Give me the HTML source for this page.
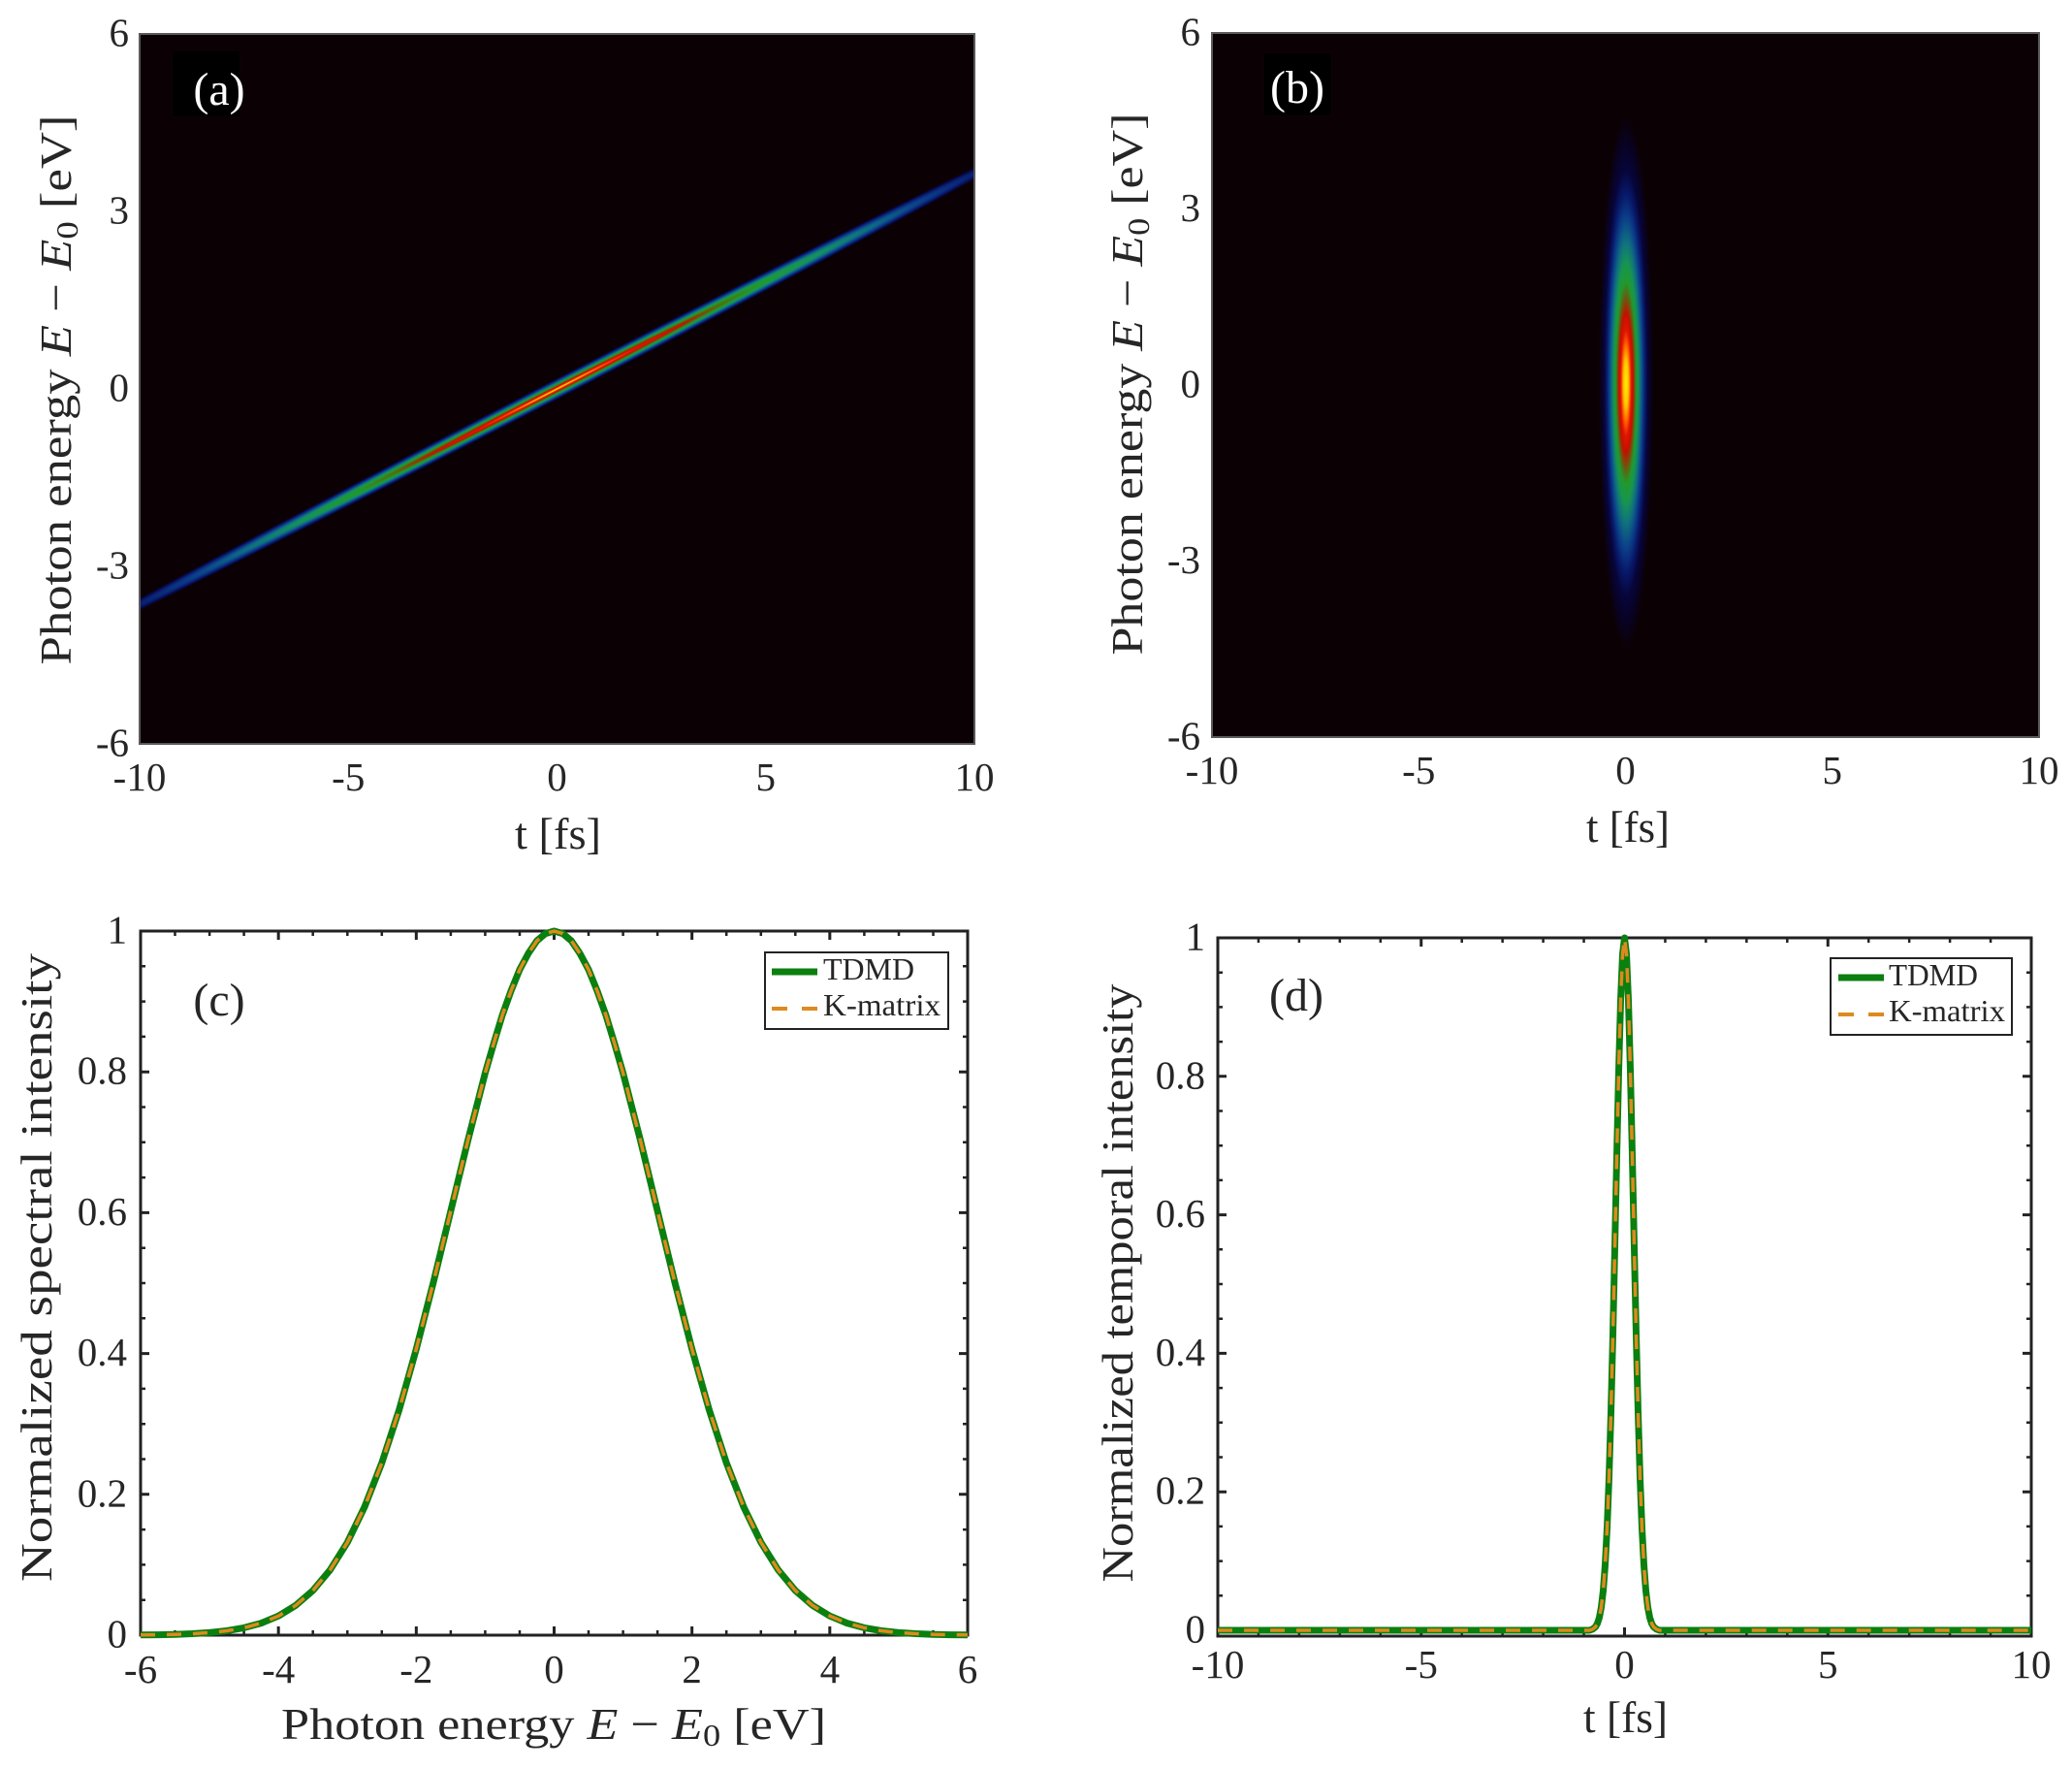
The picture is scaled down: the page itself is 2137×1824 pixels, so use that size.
<!DOCTYPE html>
<html><head><meta charset="utf-8"><style>
html,body{margin:0;padding:0;background:#fff;}
svg{display:block;}
text{font-family:"Liberation Serif","DejaVu Serif",serif;fill:#262626;}
</style></head><body>
<svg width="2137" height="1824" viewBox="0 0 2137 1824" xmlns="http://www.w3.org/2000/svg">
<defs>
<radialGradient id="ga" cx="50%" cy="50%" r="50%">
<stop offset="0" stop-color="#ffe600"/>
<stop offset="0.05" stop-color="#ffb000"/>
<stop offset="0.10" stop-color="#ff4000"/>
<stop offset="0.15" stop-color="#e01500"/>
<stop offset="0.25" stop-color="#b81a00"/>
<stop offset="0.32" stop-color="#507010"/>
<stop offset="0.40" stop-color="#1f9a2c"/>
<stop offset="0.51" stop-color="#159060"/>
<stop offset="0.61" stop-color="#0e6a85"/>
<stop offset="0.72" stop-color="#0b3a88"/>
<stop offset="0.84" stop-color="#081665"/>
<stop offset="0.93" stop-color="#06043a"/>
<stop offset="1" stop-color="#0b0104"/>
</radialGradient>
<radialGradient id="gb" cx="50%" cy="50%" r="50%">
<stop offset="0" stop-color="#ffef00"/>
<stop offset="0.09" stop-color="#ffc400"/>
<stop offset="0.15" stop-color="#ff5a00"/>
<stop offset="0.20" stop-color="#e01500"/>
<stop offset="0.26" stop-color="#c41000"/>
<stop offset="0.32" stop-color="#6a5a10"/>
<stop offset="0.38" stop-color="#1f9a2c"/>
<stop offset="0.45" stop-color="#189450"/>
<stop offset="0.53" stop-color="#0f7080"/>
<stop offset="0.62" stop-color="#0b3f88"/>
<stop offset="0.71" stop-color="#08186a"/>
<stop offset="0.80" stop-color="#07053a"/>
<stop offset="0.90" stop-color="#090222"/>
<stop offset="1" stop-color="#0b0104"/>
</radialGradient>
<clipPath id="ca"><rect x="144" y="35" width="861" height="732"/></clipPath>
<clipPath id="cb"><rect x="1250" y="34" width="853" height="726"/></clipPath>
</defs>

<!-- ===== Panel (a) ===== -->
<rect x="144" y="35" width="861" height="732" fill="#0b0104"/>
<g clip-path="url(#ca)">
<ellipse cx="574.5" cy="401" rx="600" ry="10" fill="url(#ga)" transform="rotate(-27.3 574.5 401)"/>
</g>
<rect x="144" y="35" width="861" height="732" fill="none" stroke="#5a5a5a" stroke-width="2"/>
<rect x="178" y="53" width="69" height="67" fill="#000"/>
<text x="226" y="108" font-size="48" text-anchor="middle" style="fill:#fff">(a)</text>
<g font-size="41">
<text x="133" y="47.5" text-anchor="end">6</text>
<text x="133" y="230.5" text-anchor="end">3</text>
<text x="133" y="413.5" text-anchor="end">0</text>
<text x="133" y="596.5" text-anchor="end">-3</text>
<text x="133" y="779.5" text-anchor="end">-6</text>
<text x="144" y="815" text-anchor="middle">-10</text>
<text x="359.25" y="815" text-anchor="middle">-5</text>
<text x="574.5" y="815" text-anchor="middle">0</text>
<text x="789.75" y="815" text-anchor="middle">5</text>
<text x="1005" y="815" text-anchor="middle">10</text>
</g>
<text x="531" y="875" font-size="46" textLength="89" lengthAdjust="spacingAndGlyphs">t [fs]</text>
<text transform="translate(73,402) rotate(-90)" text-anchor="middle" font-size="46" textLength="567" lengthAdjust="spacingAndGlyphs">Photon energy <tspan font-style="italic">E</tspan> − <tspan font-style="italic">E</tspan><tspan font-size="32" dy="7">0</tspan><tspan dy="-7"> [eV]</tspan></text>

<!-- ===== Panel (b) ===== -->
<rect x="1250" y="34" width="853" height="726" fill="#0b0104"/>
<g clip-path="url(#cb)">
<ellipse cx="1677" cy="395" rx="28" ry="275" fill="url(#gb)"/>
</g>
<rect x="1250" y="34" width="853" height="726" fill="none" stroke="#5a5a5a" stroke-width="2"/>
<rect x="1304" y="55" width="69" height="64" fill="#000"/>
<text x="1338" y="106" font-size="48" text-anchor="middle" style="fill:#fff">(b)</text>
<g font-size="41">
<text x="1238" y="46.5" text-anchor="end">6</text>
<text x="1238" y="228" text-anchor="end">3</text>
<text x="1238" y="409.5" text-anchor="end">0</text>
<text x="1238" y="591" text-anchor="end">-3</text>
<text x="1238" y="772.5" text-anchor="end">-6</text>
<text x="1250" y="808" text-anchor="middle">-10</text>
<text x="1463.25" y="808" text-anchor="middle">-5</text>
<text x="1676.5" y="808" text-anchor="middle">0</text>
<text x="1889.75" y="808" text-anchor="middle">5</text>
<text x="2103" y="808" text-anchor="middle">10</text>
</g>
<text x="1636" y="868" font-size="46" textLength="86" lengthAdjust="spacingAndGlyphs">t [fs]</text>
<text transform="translate(1178,396) rotate(-90)" text-anchor="middle" font-size="46" textLength="559" lengthAdjust="spacingAndGlyphs">Photon energy <tspan font-style="italic">E</tspan> − <tspan font-style="italic">E</tspan><tspan font-size="32" dy="7">0</tspan><tspan dy="-7"> [eV]</tspan></text>

<!-- ===== Panel (c) ===== -->
<rect x="145" y="960" width="853" height="726" fill="#fff" stroke="#222" stroke-width="3"/>
<path stroke="#222" stroke-width="3" fill="none" d="
M287.17 1686v-9M429.33 1686v-9M571.5 1686v-9M713.67 1686v-9M855.83 1686v-9
M287.17 960v9M429.33 960v9M571.5 960v9M713.67 960v9M855.83 960v9
M145 1540.8h9M145 1395.6h9M145 1250.4h9M145 1105.2h9
M998 1540.8h-9M998 1395.6h-9M998 1250.4h-9M998 1105.2h-9"/>
<path stroke="#222" stroke-width="2.5" fill="none" d="
M180.5 1686v-5M216.1 1686v-5M251.6 1686v-5M322.7 1686v-5M358.3 1686v-5M393.8 1686v-5M464.9 1686v-5M500.4 1686v-5M536 1686v-5M607 1686v-5M642.6 1686v-5M678.1 1686v-5M749.2 1686v-5M784.8 1686v-5M820.3 1686v-5M891.4 1686v-5M927 1686v-5M962.5 1686v-5
M180.5 960v5M216.1 960v5M251.6 960v5M322.7 960v5M358.3 960v5M393.8 960v5M464.9 960v5M500.4 960v5M536 960v5M607 960v5M642.6 960v5M678.1 960v5M749.2 960v5M784.8 960v5M820.3 960v5M891.4 960v5M927 960v5M962.5 960v5
M145 1649.7h5M145 1613.4h5M145 1577.1h5M145 1504.5h5M145 1468.2h5M145 1431.9h5M145 1359.3h5M145 1323h5M145 1286.7h5M145 1214.1h5M145 1177.8h5M145 1141.5h5M145 1068.9h5M145 1032.6h5M145 996.3h5
M998 1649.7h-5M998 1613.4h-5M998 1577.1h-5M998 1504.5h-5M998 1468.2h-5M998 1431.9h-5M998 1359.3h-5M998 1323h-5M998 1286.7h-5M998 1214.1h-5M998 1177.8h-5M998 1141.5h-5M998 1068.9h-5M998 1032.6h-5M998 996.3h-5"/>
<polyline fill="none" stroke="#0b7f10" stroke-width="7" stroke-linejoin="round" stroke-linecap="butt" points="145,1685.8 162.8,1685.6 180.5,1685.2 198.3,1684.5 216.1,1683.4 233.9,1681.5 251.6,1678.4 269.4,1673.6 287.2,1666.2 304.9,1655.4 322.7,1640 340.5,1618.7 358.3,1590.3 376,1553.8 393.8,1508.3 411.6,1453.9 429.3,1391.1 447.1,1321.8 464.9,1248.6 482.7,1175.4 500.4,1106.4 509.3,1075.6 518.2,1046.4 527.1,1021.6 536,999.7 544.9,983.1 553.7,970.1 562.6,962.6 571.5,960 580.4,962.6 589.3,970.1 598.1,983.1 607,999.7 615.9,1021.6 624.8,1046.4 633.7,1075.6 642.6,1106.4 660.4,1175.4 678.1,1248.6 695.9,1321.8 713.7,1391.1 731.5,1453.9 749.2,1508.3 767,1553.8 784.8,1590.3 802.6,1618.7 820.3,1640 838.1,1655.4 855.9,1666.2 873.6,1673.6 891.4,1678.4 909.2,1681.5 927,1683.4 944.7,1684.5 962.5,1685.2 980.2,1685.6 998,1685.8"/>
<polyline fill="none" stroke="#dd8a1e" stroke-width="3.5" stroke-dasharray="15 12" stroke-linejoin="round" points="145,1685.8 162.8,1685.6 180.5,1685.2 198.3,1684.5 216.1,1683.4 233.9,1681.5 251.6,1678.4 269.4,1673.6 287.2,1666.2 304.9,1655.4 322.7,1640 340.5,1618.7 358.3,1590.3 376,1553.8 393.8,1508.3 411.6,1453.9 429.3,1391.1 447.1,1321.8 464.9,1248.6 482.7,1175.4 500.4,1106.4 509.3,1075.6 518.2,1046.4 527.1,1021.6 536,999.7 544.9,983.1 553.7,970.1 562.6,962.6 571.5,960 580.4,962.6 589.3,970.1 598.1,983.1 607,999.7 615.9,1021.6 624.8,1046.4 633.7,1075.6 642.6,1106.4 660.4,1175.4 678.1,1248.6 695.9,1321.8 713.7,1391.1 731.5,1453.9 749.2,1508.3 767,1553.8 784.8,1590.3 802.6,1618.7 820.3,1640 838.1,1655.4 855.9,1666.2 873.6,1673.6 891.4,1678.4 909.2,1681.5 927,1683.4 944.7,1684.5 962.5,1685.2 980.2,1685.6 998,1685.8"/>
<rect x="789" y="982" width="189" height="79" fill="#fff" stroke="#222" stroke-width="2"/>
<line x1="796" y1="1002" x2="843" y2="1002" stroke="#0b7f10" stroke-width="7"/>
<line x1="796" y1="1040" x2="843" y2="1040" stroke="#dd8a1e" stroke-width="4" stroke-dasharray="16 15"/>
<text x="849" y="1010" font-size="32" textLength="94" lengthAdjust="spacingAndGlyphs">TDMD</text>
<text x="849" y="1047" font-size="32" textLength="121" lengthAdjust="spacingAndGlyphs">K-matrix</text>
<text x="226" y="1047" font-size="48" text-anchor="middle">(c)</text>
<g font-size="41">
<text x="131" y="1698.5" text-anchor="end">0</text>
<text x="131" y="1553.3" text-anchor="end">0.2</text>
<text x="131" y="1408.1" text-anchor="end">0.4</text>
<text x="131" y="1262.9" text-anchor="end">0.6</text>
<text x="131" y="1117.7" text-anchor="end">0.8</text>
<text x="131" y="972.5" text-anchor="end">1</text>
<text x="145" y="1735" text-anchor="middle">-6</text>
<text x="287.17" y="1735" text-anchor="middle">-4</text>
<text x="429.33" y="1735" text-anchor="middle">-2</text>
<text x="571.5" y="1735" text-anchor="middle">0</text>
<text x="713.67" y="1735" text-anchor="middle">2</text>
<text x="855.83" y="1735" text-anchor="middle">4</text>
<text x="998" y="1735" text-anchor="middle">6</text>
</g>
<text x="571" y="1793" text-anchor="middle" font-size="46" textLength="562" lengthAdjust="spacingAndGlyphs">Photon energy <tspan font-style="italic">E</tspan> − <tspan font-style="italic">E</tspan><tspan font-size="32" dy="7">0</tspan><tspan dy="-7"> [eV]</tspan></text>
<text transform="translate(53,1307) rotate(-90)" text-anchor="middle" font-size="46" textLength="648" lengthAdjust="spacingAndGlyphs">Normalized spectral intensity</text>

<!-- ===== Panel (d) ===== -->
<rect x="1256" y="967" width="839" height="720" fill="#fff" stroke="#222" stroke-width="3"/>
<path stroke="#222" stroke-width="3" fill="none" d="
M1465.75 1687v-9M1675.5 1687v-9M1885.25 1687v-9
M1465.75 967v9M1675.5 967v9M1885.25 967v9
M1256 1681h9M1256 1538.2h9M1256 1395.4h9M1256 1252.6h9M1256 1109.8h9
M2095 1681h-9M2095 1538.2h-9M2095 1395.4h-9M2095 1252.6h-9M2095 1109.8h-9"/>
<path stroke="#222" stroke-width="2.5" fill="none" d="
M1297.95 1687v-5M1339.9 1687v-5M1381.85 1687v-5M1423.8 1687v-5M1507.7 1687v-5M1549.65 1687v-5M1591.6 1687v-5M1633.55 1687v-5M1717.45 1687v-5M1759.4 1687v-5M1801.35 1687v-5M1843.3 1687v-5M1927.2 1687v-5M1969.15 1687v-5M2011.1 1687v-5M2053.05 1687v-5
M1297.95 967v5M1339.9 967v5M1381.85 967v5M1423.8 967v5M1507.7 967v5M1549.65 967v5M1591.6 967v5M1633.55 967v5M1717.45 967v5M1759.4 967v5M1801.35 967v5M1843.3 967v5M1927.2 967v5M1969.15 967v5M2011.1 967v5M2053.05 967v5
M1256 1645.3h5M1256 1609.6h5M1256 1573.9h5M1256 1502.5h5M1256 1466.8h5M1256 1431.1h5M1256 1359.7h5M1256 1324h5M1256 1288.3h5M1256 1216.9h5M1256 1181.2h5M1256 1145.5h5M1256 1074.1h5M1256 1038.4h5M1256 1002.7h5
M2095 1645.3h-5M2095 1609.6h-5M2095 1573.9h-5M2095 1502.5h-5M2095 1466.8h-5M2095 1431.1h-5M2095 1359.7h-5M2095 1324h-5M2095 1288.3h-5M2095 1216.9h-5M2095 1181.2h-5M2095 1145.5h-5M2095 1074.1h-5M2095 1038.4h-5M2095 1002.7h-5"/>
<polyline fill="none" stroke="#0b7f10" stroke-width="7" stroke-linejoin="round" points="1256,1681 1639.5,1681 1642.5,1679.9 1645.5,1677.5 1647.5,1674 1649.5,1667.8 1651.5,1657.2 1653.5,1640.1 1655.5,1613.8 1657.5,1575.7 1659.5,1523.6 1661.5,1456.7 1663.5,1376 1665.5,1285.5 1667.5,1191.8 1669.5,1103.8 1671.5,1031.4 1673.5,983.7 1675.5,967 1677.5,983.7 1679.5,1031.4 1681.5,1103.8 1683.5,1191.8 1685.5,1285.5 1687.5,1376 1689.5,1456.7 1691.5,1523.6 1693.5,1575.7 1695.5,1613.8 1697.5,1640.1 1699.5,1657.2 1701.5,1667.8 1703.5,1674 1705.5,1677.5 1708.5,1679.9 1711.5,1681 2095,1681"/>
<polyline fill="none" stroke="#dd8a1e" stroke-width="3.5" stroke-dasharray="15 12" stroke-linejoin="round" points="1256,1681 1639.5,1681 1642.5,1679.9 1645.5,1677.5 1647.5,1674 1649.5,1667.8 1651.5,1657.2 1653.5,1640.1 1655.5,1613.8 1657.5,1575.7 1659.5,1523.6 1661.5,1456.7 1663.5,1376 1665.5,1285.5 1667.5,1191.8 1669.5,1103.8 1671.5,1031.4 1673.5,983.7 1675.5,967 1677.5,983.7 1679.5,1031.4 1681.5,1103.8 1683.5,1191.8 1685.5,1285.5 1687.5,1376 1689.5,1456.7 1691.5,1523.6 1693.5,1575.7 1695.5,1613.8 1697.5,1640.1 1699.5,1657.2 1701.5,1667.8 1703.5,1674 1705.5,1677.5 1708.5,1679.9 1711.5,1681 2095,1681"/>
<rect x="1888" y="988" width="187" height="79" fill="#fff" stroke="#222" stroke-width="2"/>
<line x1="1896" y1="1008" x2="1943" y2="1008" stroke="#0b7f10" stroke-width="7"/>
<line x1="1896" y1="1046" x2="1943" y2="1046" stroke="#dd8a1e" stroke-width="4" stroke-dasharray="16 15"/>
<text x="1948" y="1016" font-size="32" textLength="92" lengthAdjust="spacingAndGlyphs">TDMD</text>
<text x="1948" y="1053" font-size="32" textLength="120" lengthAdjust="spacingAndGlyphs">K-matrix</text>
<text x="1337" y="1042" font-size="48" text-anchor="middle">(d)</text>
<g font-size="41">
<text x="1243" y="1693.5" text-anchor="end">0</text>
<text x="1243" y="1550.7" text-anchor="end">0.2</text>
<text x="1243" y="1407.9" text-anchor="end">0.4</text>
<text x="1243" y="1265.1" text-anchor="end">0.6</text>
<text x="1243" y="1122.3" text-anchor="end">0.8</text>
<text x="1243" y="979.5" text-anchor="end">1</text>
<text x="1256" y="1730" text-anchor="middle">-10</text>
<text x="1465.75" y="1730" text-anchor="middle">-5</text>
<text x="1675.5" y="1730" text-anchor="middle">0</text>
<text x="1885.25" y="1730" text-anchor="middle">5</text>
<text x="2095" y="1730" text-anchor="middle">10</text>
</g>
<text x="1633" y="1786" font-size="46" textLength="87" lengthAdjust="spacingAndGlyphs">t [fs]</text>
<text transform="translate(1168,1323) rotate(-90)" text-anchor="middle" font-size="46" textLength="617" lengthAdjust="spacingAndGlyphs">Normalized temporal intensity</text>
</svg>
</body></html>
